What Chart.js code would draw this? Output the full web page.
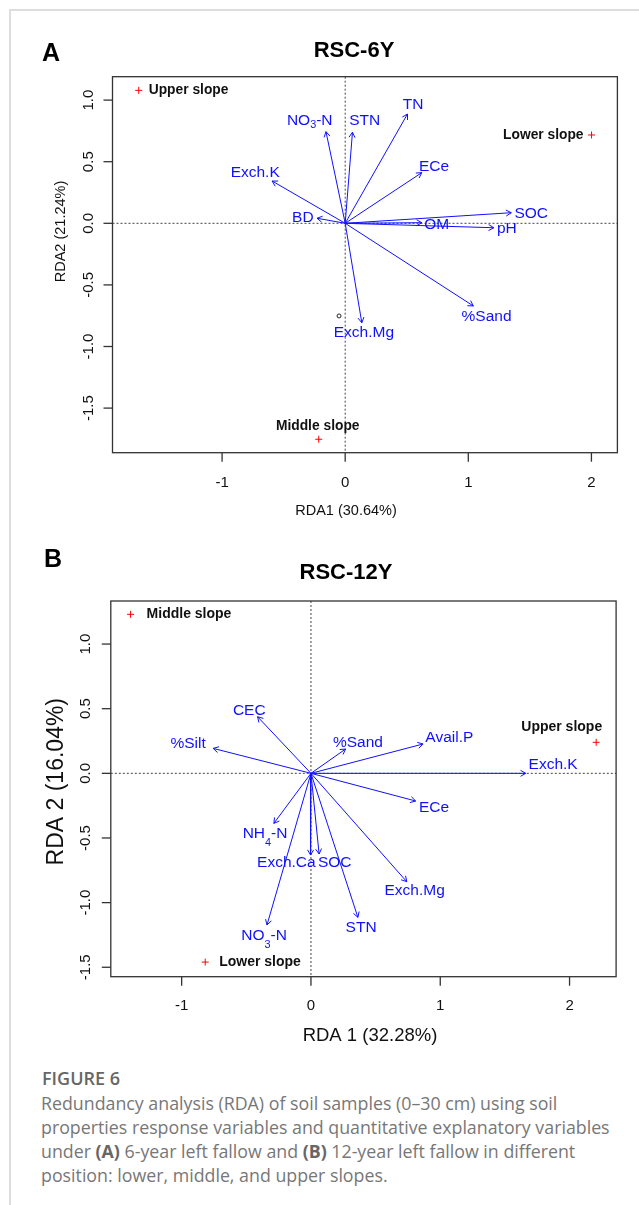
<!DOCTYPE html>
<html>
<head>
<meta charset="utf-8">
<script src="https://cdn.jsdelivr.net/npm/chart.js@4.4.1/dist/chart.umd.min.js"></script>
<style>
  html, body { margin: 0; padding: 0; background: #fff; }
  body { width: 639px; height: 1205px; position: relative; overflow: hidden; }
  .card { position: absolute; left: 9px; top: 9px; width: 700px; height: 1300px;
          border-top: 2px solid #dddddd; border-left: 2px solid #dddddd; }
  canvas { position: absolute; left: 0; }
  #chartA { top: 0; }
  #chartB { top: 530px; }
  .cap-head { position: absolute; left: 42px; top: 1068px; font: 600 18px/20px "Open Sans", sans-serif; color: #666666; }
  .cap { position: absolute; left: 41px; top: 1091px; font: 400 17.8px/24px "Open Sans", sans-serif; color: #777777; white-space: nowrap; }
  .cap b { font-weight: 700; color: #666; }
</style>
</head>
<body>
<div class="card"></div>
<canvas id="chartA" width="639" height="530"></canvas>
<canvas id="chartB" width="639" height="530"></canvas>
<div class="cap-head">FIGURE 6</div>
<div class="cap">Redundancy analysis (RDA) of soil samples (0–30 cm) using soil<br>properties response variables and quantitative explanatory variables<br>under <b>(A)</b> 6-year left fallow and <b>(B)</b> 12-year left fallow in different<br>position: lower, middle, and upper slopes.</div>

<script>
// ---- Panel A: RSC-6Y ----
const varsA = ['NO₃-N', 'STN', 'TN', 'ECe', 'Exch.K', 'BD', 'SOC', 'OM', 'pH', '%Sand', 'Exch.Mg'];
const tipXA = [-0.156, 0.059, 0.506, 0.622, -0.593, -0.229, 1.349, 0.622, 1.207, 1.041, 0.135];
const tipYA = [0.744, 0.739, 0.887, 0.411, 0.343, 0.041, 0.086, 0.005, -0.036, -0.671, -0.807];
const labXA = [-0.288, 0.158, 0.552, 0.721, -0.731, -0.344, 1.511, 0.744, 1.313, 1.148, 0.152];
const labYA = [0.847, 0.847, 0.974, 0.468, 0.425, 0.054, 0.089, 0.0, -0.036, -0.750, -0.874];
const sitesA = ['Upper slope', 'Lower slope', 'Middle slope'];
const siteXA = [-1.677, 2.001, -0.215];
const siteYA = [1.079, 0.717, -1.753];
const extraXA = [-0.05];
const extraYA = [-0.752];
const xTicksA = [-1, 0, 1, 2];
const yTicksA = [-1.5, -1.0, -0.5, 0.0, 0.5, 1.0];

// ---- Panel B: RSC-12Y ----
const varsB = ['CEC', '%Silt', '%Sand', 'Avail.P', 'Exch.K', 'ECe', 'NH₄-N', 'Exch.Ca', 'SOC', 'Exch.Mg', 'STN', 'NO₃-N'];
const tipXB = [-0.413, -0.756, 0.268, 0.867, 1.661, 0.810, -0.287, -0.003, 0.063, 0.741, 0.363, -0.340];
const tipYB = [0.438, 0.193, 0.188, 0.227, 0.0, -0.214, -0.387, -0.632, -0.624, -0.838, -1.114, -1.173];
const labXB = [-0.477, -0.950, 0.363, 1.070, 1.873, 0.952, -0.355, -0.190, 0.184, 0.802, 0.388, -0.362];
const labYB = [0.497, 0.240, 0.247, 0.283, 0.077, -0.258, -0.459, -0.683, -0.683, -0.897, -1.186, -1.245];
const sitesB = ['Middle slope', 'Upper slope', 'Lower slope'];
const siteXB = [-1.395, 2.206, -0.818];
const siteYB = [1.230, 0.240, -1.460];
const xTicksB = [-1, 0, 1, 2];
const yTicksB = [-1.5, -1.0, -0.5, 0.0, 0.5, 1.0];

const BLUE = '#1010ff';
const FONT = '"Liberation Sans", Arial, sans-serif';
const SUBS = '₀₁₂₃₄₅₆₇₈₉';

// text with unicode subscript digits drawn small and lowered
function drawRich(ctx, text, cx, cy, size, shift) {
  const parts = [];
  for (const ch of text) {
    const k = SUBS.indexOf(ch);
    const sub = k >= 0;
    const c = sub ? String(k) : ch;
    const last = parts[parts.length - 1];
    if (last && last.sub === sub) last.t += c; else parts.push({ t: c, sub });
  }
  let w = 0;
  parts.forEach(p => {
    ctx.font = `${p.sub ? size * 0.7 : size}px ${FONT}`;
    p.w = ctx.measureText(p.t).width;
    w += p.w;
  });
  let x = cx - w / 2;
  ctx.textAlign = 'left';
  ctx.textBaseline = 'alphabetic';
  parts.forEach(p => {
    ctx.font = `${p.sub ? size * 0.7 : size}px ${FONT}`;
    ctx.fillText(p.t, x, cy + size * 0.36 + (p.sub ? size * shift : 0));
    x += p.w;
  });
}

const rPlot = {
  id: 'rPlot',
  beforeDatasetsDraw(chart, args, o) {
    const { ctx, chartArea: a, scales: { x, y } } = chart;
    const x0 = x.getPixelForValue(0), y0 = y.getPixelForValue(0);
    ctx.save();
    ctx.strokeStyle = '#444';
    ctx.lineWidth = 1;
    ctx.setLineDash([2, 2]);
    ctx.beginPath();
    ctx.moveTo(x0, a.top); ctx.lineTo(x0, a.bottom);
    ctx.moveTo(a.left, y0); ctx.lineTo(a.right, y0);
    ctx.stroke();
    ctx.restore();
  },
  afterDatasetsDraw(chart, args, o) {
    const { ctx, scales: { x, y } } = chart;
    const ox = x.getPixelForValue(0), oy = y.getPixelForValue(0);
    ctx.save();
    // arrow heads
    ctx.strokeStyle = BLUE;
    ctx.lineWidth = 1;
    o.tipX.forEach((tx, i) => {
      const px = x.getPixelForValue(tx), py = y.getPixelForValue(o.tipY[i]);
      const ang = Math.atan2(py - oy, px - ox);
      const L = 6;
      ctx.beginPath();
      ctx.moveTo(px - L * Math.cos(ang - Math.PI / 6), py - L * Math.sin(ang - Math.PI / 6));
      ctx.lineTo(px, py);
      ctx.lineTo(px - L * Math.cos(ang + Math.PI / 6), py - L * Math.sin(ang + Math.PI / 6));
      ctx.stroke();
    });
    // variable labels
    ctx.fillStyle = BLUE;
    o.vars.forEach((name, i) => {
      drawRich(ctx, name, x.getPixelForValue(o.labX[i]), y.getPixelForValue(o.labY[i]), o.varSize, o.subShift);
    });
    // site labels
    ctx.fillStyle = '#111';
    ctx.font = `bold ${o.siteSize}px ${FONT}`;
    ctx.textBaseline = 'middle';
    o.sites.forEach((name, i) => {
      const s = o.siteLab[i];
      ctx.textAlign = s.align;
      ctx.fillText(name, x.getPixelForValue(o.siteX[i]) + s.dx, y.getPixelForValue(o.siteY[i]) + s.dy);
    });
    ctx.restore();
  },
  afterDraw(chart, args, o) {
    const { ctx, chartArea: a, scales: { x, y } } = chart;
    ctx.save();
    ctx.strokeStyle = '#333';
    ctx.lineWidth = 1.3;
    ctx.strokeRect(a.left, a.top, a.right - a.left, a.bottom - a.top);
    ctx.fillStyle = '#111';
    // x ticks
    ctx.font = `${o.tickSize}px ${FONT}`;
    ctx.textAlign = 'center';
    ctx.textBaseline = 'alphabetic';
    o.xTicks.forEach(v => {
      const px = x.getPixelForValue(v);
      ctx.beginPath(); ctx.moveTo(px, a.bottom); ctx.lineTo(px, a.bottom + 9); ctx.stroke();
      ctx.fillText(v < 0 ? '-' + Math.abs(v) : String(v), px, o.xTickBase);
    });
    // y ticks (rotated labels, R style)
    o.yTicks.forEach(v => {
      const py = y.getPixelForValue(v);
      ctx.beginPath(); ctx.moveTo(a.left, py); ctx.lineTo(a.left - 9, py); ctx.stroke();
      ctx.save();
      ctx.translate(o.yTickBase, py);
      ctx.rotate(-Math.PI / 2);
      ctx.fillText(v.toFixed(1), 0, 0);
      ctx.restore();
    });
    // axis titles
    ctx.font = `${o.xTitleSize}px ${FONT}`;
    ctx.fillText(o.xTitle, o.xTitlePos[0], o.xTitlePos[1]);
    ctx.save();
    ctx.font = `${o.yTitleSize}px ${FONT}`;
    ctx.translate(o.yTitlePos[0], o.yTitlePos[1]);
    ctx.rotate(-Math.PI / 2);
    ctx.fillText(o.yTitle, 0, 0);
    ctx.restore();
    // panel letter and main title
    ctx.fillStyle = '#000';
    ctx.font = `bold 25px ${FONT}`;
    ctx.textAlign = 'left';
    ctx.fillText(o.letter, o.letterPos[0], o.letterPos[1]);
    ctx.font = `bold 22px ${FONT}`;
    ctx.textAlign = 'center';
    ctx.fillText(o.title, o.titlePos[0], o.titlePos[1]);
    ctx.restore();
  }
};

function makeChart(id, c) {
  const datasets = c.vars.map((name, i) => ({
    type: 'line',
    label: name,
    data: [{ x: 0, y: 0 }, { x: c.tipX[i], y: c.tipY[i] }],
    borderColor: BLUE,
    borderWidth: 1,
    pointRadius: 0,
    fill: false,
  }));
  datasets.push({
    type: 'scatter',
    label: 'sites',
    data: c.siteX.map((v, i) => ({ x: v, y: c.siteY[i] })),
    pointStyle: 'cross',
    pointRadius: 3.5,
    borderColor: '#ff0000',
    borderWidth: 1,
  });
  if (c.extraX) {
    datasets.push({
      type: 'scatter',
      label: 'other',
      data: c.extraX.map((v, i) => ({ x: v, y: c.extraY[i] })),
      pointStyle: 'circle',
      pointRadius: 2,
      borderColor: '#222',
      backgroundColor: 'rgba(0,0,0,0)',
      borderWidth: 1,
    });
  }
  return new Chart(document.getElementById(id).getContext('2d'), {
    type: 'scatter',
    data: { datasets },
    options: {
      responsive: false,
      animation: false,
      events: [],
      layout: { padding: c.pad },
      plugins: {
        legend: { display: false },
        tooltip: { enabled: false },
        rPlot: c,
      },
      scales: {
        x: { type: 'linear', display: false, min: c.xRange[0], max: c.xRange[1] },
        y: { type: 'linear', display: false, min: c.yRange[0], max: c.yRange[1] },
      },
    },
    plugins: [rPlot],
  });
}

makeChart('chartA', {
  vars: varsA, tipX: tipXA, tipY: tipYA, labX: labXA, labY: labYA,
  sites: sitesA, siteX: siteXA, siteY: siteYA, extraX: extraXA, extraY: extraYA,
  xTicks: xTicksA, yTicks: yTicksA,
  siteLab: [{ align: 'left', dx: 10, dy: 0 }, { align: 'right', dx: -8, dy: 0 }, { align: 'center', dx: -1, dy: -13 }],
  pad: { left: 112.5, top: 76.7, right: 21.6, bottom: 77.3 },
  xRange: [-1.890, 2.211], yRange: [-1.862, 1.190],
  varSize: 15.5, siteSize: 13.8, subShift: 0.2, tickSize: 15,
  xTickBase: 486.7, yTickBase: 93,
  xTitle: 'RDA1 (30.64%)', xTitleSize: 14.5, xTitlePos: [346, 515],
  yTitle: 'RDA2 (21.24%)', yTitleSize: 14.5, yTitlePos: [65, 231.5],
  letter: 'A', letterPos: [42, 60.7],
  title: 'RSC-6Y', titlePos: [354, 57.3],
});

makeChart('chartB', {
  vars: varsB, tipX: tipXB, tipY: tipYB, labX: labXB, labY: labYB,
  sites: sitesB, siteX: siteXB, siteY: siteYB,
  xTicks: xTicksB, yTicks: yTicksB,
  siteLab: [{ align: 'left', dx: 16, dy: 0 }, { align: 'right', dx: 6, dy: -15 }, { align: 'left', dx: 14, dy: 0 }],
  pad: { left: 110.8, top: 71, right: 22.9, bottom: 83.3 },
  xRange: [-1.548, 2.360], yRange: [-1.573, 1.333],
  varSize: 15.5, siteSize: 14, subShift: 0.5, tickSize: 15,
  xTickBase: 480, yTickBase: 90,
  xTitle: 'RDA 1 (32.28%)', xTitleSize: 18.5, xTitlePos: [370, 511],
  yTitle: 'RDA 2 (16.04%)', yTitleSize: 23, yTitlePos: [63, 251.7],
  letter: 'B', letterPos: [44, 36.7],
  title: 'RSC-12Y', titlePos: [346, 49.3],
});
</script>
</body>
</html>
